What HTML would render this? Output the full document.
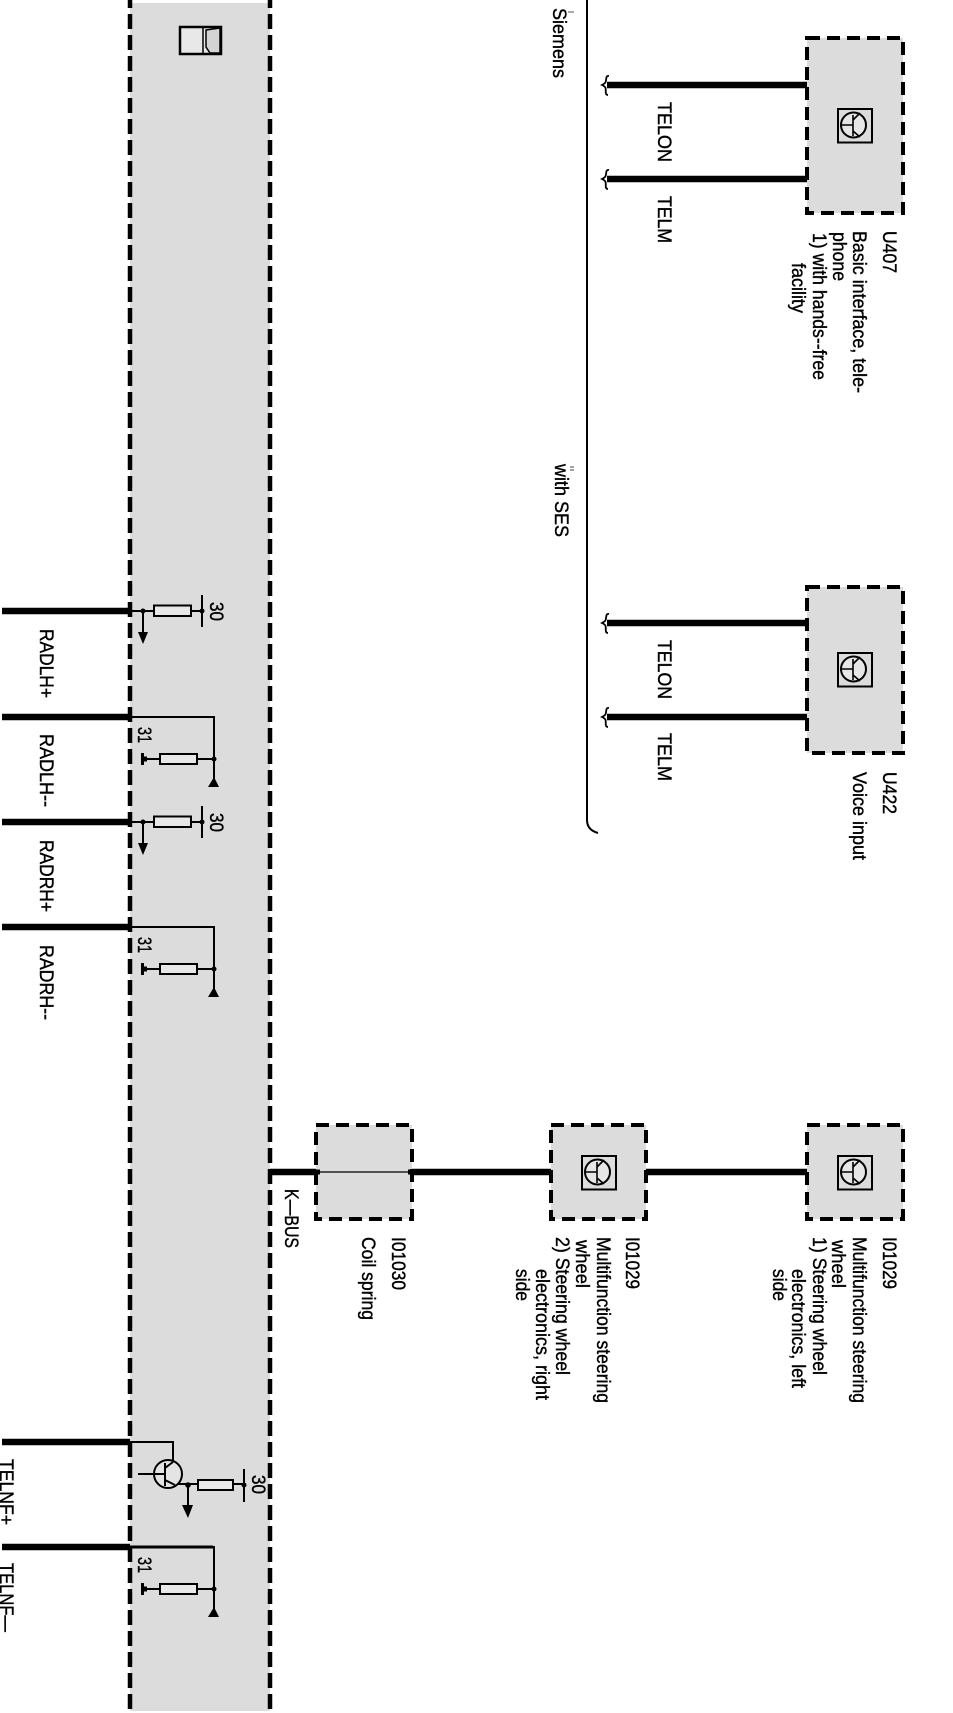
<!DOCTYPE html>
<html><head><meta charset="utf-8"><style>
html,body{margin:0;padding:0;background:#fff;width:953px;height:1713px;overflow:hidden}
svg{display:block}
text{font-family:"Liberation Sans",sans-serif;font-size:19.5px;fill:#000;stroke:#000;stroke-width:.4}
.w{stroke:#000;stroke-width:6.500;fill:none}
.t{stroke:#000;stroke-width:2;fill:none}
.d{stroke:#000;stroke-width:4.500;stroke-dasharray:15 6;fill:none}
.b{fill:#dcdcdc;stroke:#000;stroke-width:4;stroke-dasharray:13 7}
.r{fill:#e8e8e8;stroke:#000;stroke-width:2}
</style></head><body>
<svg width="953" height="1713" viewBox="0 0 953 1713" xmlns="http://www.w3.org/2000/svg">
<defs>
<g id="sym">
<rect x="-17" y="-17" width="34" height="33.500" fill="#dcdcdc" stroke="#000" stroke-width="2"/>
<circle cx="-1.500" cy="-1" r="12.500" fill="#e6e6e6" stroke="#000" stroke-width="2"/>
<path d="M-14-1H-2M-2-11V10M-2-6L5-13M-2 5L5 11" fill="none" stroke="#000" stroke-width="1.600"/>
</g>
<g id="hook"><path d="M5-9C1-10 3-4 1-2C0-1-2 0-2 0C-2 0 0 1 1 2C3 4 0 10 4 10" fill="none" stroke="#000" stroke-width="1.800"/></g>
<g id="feed">
<path class="t" d="M130 0H191M143 0V22M202-16V16"/>
<path d="M138 21H148L143 33Z"/>
<circle cx="143" cy="0" r="2.500"/><circle cx="202" cy="0" r="2.500"/>
<rect class="r" x="154" y="-5.500" width="37" height="10.500"/>
<path class="t" d="M191 0H202"/>
</g>
<g id="gnd">
<path class="t" d="M130 0H214V64M143 42H214"/>
<path d="M208 70H219L214 60Z"/>
<rect x="141" y="36" width="3" height="12"/><rect x="141" y="39.500" width="6" height="5"/>
<circle cx="214" cy="42" r="2.500"/>
<rect class="r" x="160" y="37" width="37" height="10"/>
</g>
</defs>

<!-- panel -->
<rect x="130" y="3" width="140" height="1708" fill="#dcdcdc"/>
<path class="d" d="M130 -7V1713M270 -7V1713"/>

<!-- truck icon -->
<rect x="180" y="27" width="41" height="27" fill="#e8e8e8" stroke="#000" stroke-width="2.500"/>
<path d="M203 27V54M206 30L220 28V53L210 53L206 47Z" fill="#d4d4d4" stroke="#000" stroke-width="1.500"/>

<!-- bracket -->
<path d="M587 0V820Q587 830 598 833" fill="none" stroke="#000" stroke-width="2"/>

<!-- top wires -->
<path class="w" d="M607 85H810M607 179H810M607 623H810M607 717H810"/>
<use href="#hook" x="604" y="85"/><use href="#hook" x="604" y="179"/>
<use href="#hook" x="604" y="623"/><use href="#hook" x="604" y="717"/>

<!-- K-bus -->
<path class="w" d="M270 1172H316M412 1172H551M646 1172H807"/>

<!-- boxes -->
<rect class="b" x="807" y="38" width="96" height="175"/>
<rect class="b" x="807" y="587" width="96" height="166"/>
<rect class="b" x="316" y="1125" width="96" height="94"/>
<rect class="b" x="551" y="1125" width="95" height="94"/>
<rect class="b" x="807" y="1125" width="96" height="94"/>
<path d="M316 1172H412" stroke="#000" stroke-width="1.200"/>
<path d="M316 1172H320M408 1172H412" stroke="#000" stroke-width="5"/>

<use href="#sym" x="855" y="126"/>
<use href="#sym" x="855" y="670"/>
<use href="#sym" x="599" y="1173"/>
<use href="#sym" x="855" y="1173"/>

<!-- left wires -->
<path class="w" d="M2 611H130M2 717H130M2 822H130M2 927H130M2 1442H130M2 1547H130"/>
<use href="#feed" y="611"/>
<use href="#gnd" y="717"/>
<use href="#feed" y="822"/>
<use href="#gnd" y="927"/>
<use href="#gnd" y="1547"/>
<path d="M130 1547H213" stroke="#000" stroke-width="3"/>

<!-- transistor driver -->
<path class="t" d="M130 1442H173V1462M174 1484H244M188 1485V1506M244 1469V1502"/>
<circle cx="168" cy="1474" r="14" fill="#e4e4e4" stroke="#000" stroke-width="2"/>
<path d="M138 1474H165M165 1463V1486M165 1468L173 1462M165 1480L175 1485" fill="none" stroke="#000" stroke-width="2"/>
<path d="M182 1505H193L188 1518Z"/>
<circle cx="188" cy="1485" r="2.800"/><circle cx="244" cy="1485" r="2.500"/>
<rect class="r" x="198" y="1480" width="35" height="10"/>

<!-- labels: top -->
<text transform="translate(553 8) rotate(90)" textLength="70" lengthAdjust="spacingAndGlyphs">Siemens</text>
<path d="M568 12H574" stroke="#555" stroke-width="1"/>
<text transform="translate(555 464) rotate(90)" textLength="73" lengthAdjust="spacingAndGlyphs">with SES</text>
<path d="M570 467H574M570 470H574" stroke="#444" stroke-width="1"/>

<text transform="translate(658 102) rotate(90)" textLength="60" lengthAdjust="spacingAndGlyphs">TELON</text>
<text transform="translate(658 196) rotate(90)" textLength="47" lengthAdjust="spacingAndGlyphs">TELM</text>
<text transform="translate(658 640) rotate(90)" textLength="59" lengthAdjust="spacingAndGlyphs">TELON</text>
<text transform="translate(658 733) rotate(90)" textLength="48" lengthAdjust="spacingAndGlyphs">TELM</text>

<text transform="translate(883 231) rotate(90)" textLength="42" lengthAdjust="spacingAndGlyphs">U407</text>
<text transform="translate(853 231) rotate(90)" textLength="162" lengthAdjust="spacingAndGlyphs">Basic interface, tele-</text>
<text transform="translate(833 232) rotate(90)" textLength="49" lengthAdjust="spacingAndGlyphs">phone</text>
<text transform="translate(813 233) rotate(90)" textLength="147" lengthAdjust="spacingAndGlyphs">1) with hands--free</text>
<text transform="translate(792 263) rotate(90)" textLength="50" lengthAdjust="spacingAndGlyphs">facility</text>

<text transform="translate(883 772) rotate(90)" textLength="42" lengthAdjust="spacingAndGlyphs">U422</text>
<text transform="translate(853 772) rotate(90)" textLength="88" lengthAdjust="spacingAndGlyphs">Voice input</text>

<!-- labels: bottom row -->
<text transform="translate(285 1189) rotate(90)" textLength="59" lengthAdjust="spacingAndGlyphs">K—BUS</text>
<text transform="translate(392 1237) rotate(90)" textLength="53" lengthAdjust="spacingAndGlyphs">I01030</text>
<text transform="translate(362 1237) rotate(90)" textLength="83" lengthAdjust="spacingAndGlyphs">Coil spring</text>

<text transform="translate(626 1237) rotate(90)" textLength="52" lengthAdjust="spacingAndGlyphs">I01029</text>
<text transform="translate(597 1237) rotate(90)" textLength="166" lengthAdjust="spacingAndGlyphs">Multifunction steering</text>
<text transform="translate(576 1240) rotate(90)" textLength="48" lengthAdjust="spacingAndGlyphs">wheel</text>
<text transform="translate(556 1237) rotate(90)" textLength="138" lengthAdjust="spacingAndGlyphs">2) Steering wheel</text>
<text transform="translate(536 1269) rotate(90)" textLength="131" lengthAdjust="spacingAndGlyphs">electronics, right</text>
<text transform="translate(516 1269) rotate(90)" textLength="32" lengthAdjust="spacingAndGlyphs">side</text>

<text transform="translate(883 1237) rotate(90)" textLength="52" lengthAdjust="spacingAndGlyphs">I01029</text>
<text transform="translate(853 1237) rotate(90)" textLength="166" lengthAdjust="spacingAndGlyphs">Multifunction steering</text>
<text transform="translate(832 1240) rotate(90)" textLength="48" lengthAdjust="spacingAndGlyphs">wheel</text>
<text transform="translate(813 1237) rotate(90)" textLength="138" lengthAdjust="spacingAndGlyphs">1) Steering wheel</text>
<text transform="translate(792 1269) rotate(90)" textLength="119" lengthAdjust="spacingAndGlyphs">electronics, left</text>
<text transform="translate(773 1269) rotate(90)" textLength="32" lengthAdjust="spacingAndGlyphs">side</text>

<!-- labels: left -->
<text transform="translate(40 629) rotate(90)" textLength="69" lengthAdjust="spacingAndGlyphs">RADLH+</text>
<text transform="translate(40 734) rotate(90)" textLength="73" lengthAdjust="spacingAndGlyphs">RADLH--</text>
<text transform="translate(40 840) rotate(90)" textLength="72" lengthAdjust="spacingAndGlyphs">RADRH+</text>
<text transform="translate(40 945) rotate(90)" textLength="75" lengthAdjust="spacingAndGlyphs">RADRH--</text>
<text transform="translate(0 1459) rotate(90)" textLength="66" lengthAdjust="spacingAndGlyphs">TELNF+</text>
<text transform="translate(0 1563) rotate(90)" textLength="69" lengthAdjust="spacingAndGlyphs">TELNF—</text>

<text transform="translate(210 602) rotate(90)" textLength="19" lengthAdjust="spacingAndGlyphs">30</text>
<text transform="translate(210 813) rotate(90)" textLength="19" lengthAdjust="spacingAndGlyphs">30</text>
<text transform="translate(252 1475) rotate(90)" textLength="19" lengthAdjust="spacingAndGlyphs">30</text>
<text transform="translate(138 727) rotate(90)" textLength="16" lengthAdjust="spacingAndGlyphs">31</text>
<text transform="translate(138 937) rotate(90)" textLength="16" lengthAdjust="spacingAndGlyphs">31</text>
<text transform="translate(138 1557) rotate(90)" textLength="16" lengthAdjust="spacingAndGlyphs">31</text>
</svg>
</body></html>
